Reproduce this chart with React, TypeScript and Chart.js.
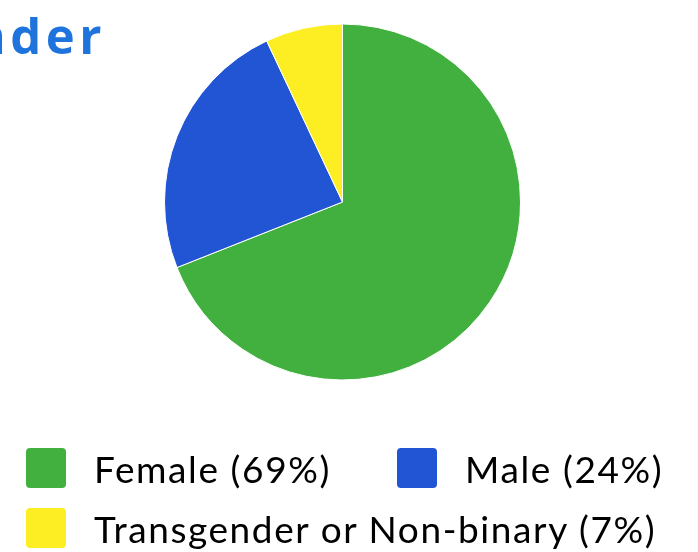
import React, { useEffect, useRef } from "react";
import { Chart, registerables } from "chart.js";

Chart.register(...registerables);

const title = "Gender";
const categories = ["Female", "Male", "Transgender or Non-binary"];
const values = [69, 24, 7];
const colors = ["#41B03E", "#2155D3", "#FDEE23"];

const legendLabels = categories.map((c, i) => `${c} (${values[i]}%)`);

export default function App() {
  const canvasRef = useRef<HTMLCanvasElement | null>(null);

  useEffect(() => {
    const canvas = canvasRef.current;
    if (!canvas) return;
    const chart = new Chart(canvas, {
      type: "pie",
      data: {
        labels: categories,
        datasets: [
          {
            data: values,
            backgroundColor: colors,
            borderColor: "#ffffff",
            borderWidth: 1,
            hoverOffset: 0,
            offset: 0,
          },
        ],
      },
      options: {
        animation: false,
        responsive: true,
        maintainAspectRatio: false,
        radius: 178,
        layout: { padding: { left: 0, right: 13, top: 24, bottom: 172 } },
        plugins: {
          legend: { display: false },
          tooltip: { enabled: false },
          title: { display: false },
        },
      },
    });
    return () => chart.destroy();
  }, []);

  return (
    <div
      style={{
        position: "fixed",
        left: 0,
        top: 0,
        width: 698,
        height: 552,
        overflow: "hidden",
        background: "#fff",
      }}
    >
      <div
        style={{
          position: "absolute",
          left: -300,
          width: 406,
          top: 11,
          textAlign: "right",
          whiteSpace: "nowrap",
          fontFamily: "'Open Sans', sans-serif",
          fontWeight: 700,
          fontSize: 49,
          lineHeight: "49px",
          letterSpacing: "4.5px",
          color: "#1E74DC",
        }}
      >
        {title}
      </div>
      <div style={{ position: "absolute", left: 0, top: 0, width: 698, height: 552 }}>
        <canvas ref={canvasRef} />
      </div>
      <div
        style={{
          position: "absolute",
          left: 26,
          top: 448,
          display: "grid",
          gridTemplateColumns: "371px auto",
          rowGap: 20,
          fontFamily: "Lato, sans-serif",
          fontSize: 37,
          letterSpacing: "1.6px",
          color: "#000",
        }}
      >
        {legendLabels.map((label, i) => (
          <div
            key={label}
            style={{
              display: "flex",
              alignItems: "center",
              height: 40,
              gridColumn: i === 2 ? "1 / span 2" : undefined,
              whiteSpace: "nowrap",
            }}
          >
            <span
              style={{
                display: "inline-block",
                width: 40,
                height: 40,
                borderRadius: 4,
                background: colors[i],
                marginRight: 28,
                flex: "none",
              }}
            />
            <span style={{ lineHeight: "40px", position: "relative", top: 1 }}>{label}</span>
          </div>
        ))}
      </div>
    </div>
  );
}
